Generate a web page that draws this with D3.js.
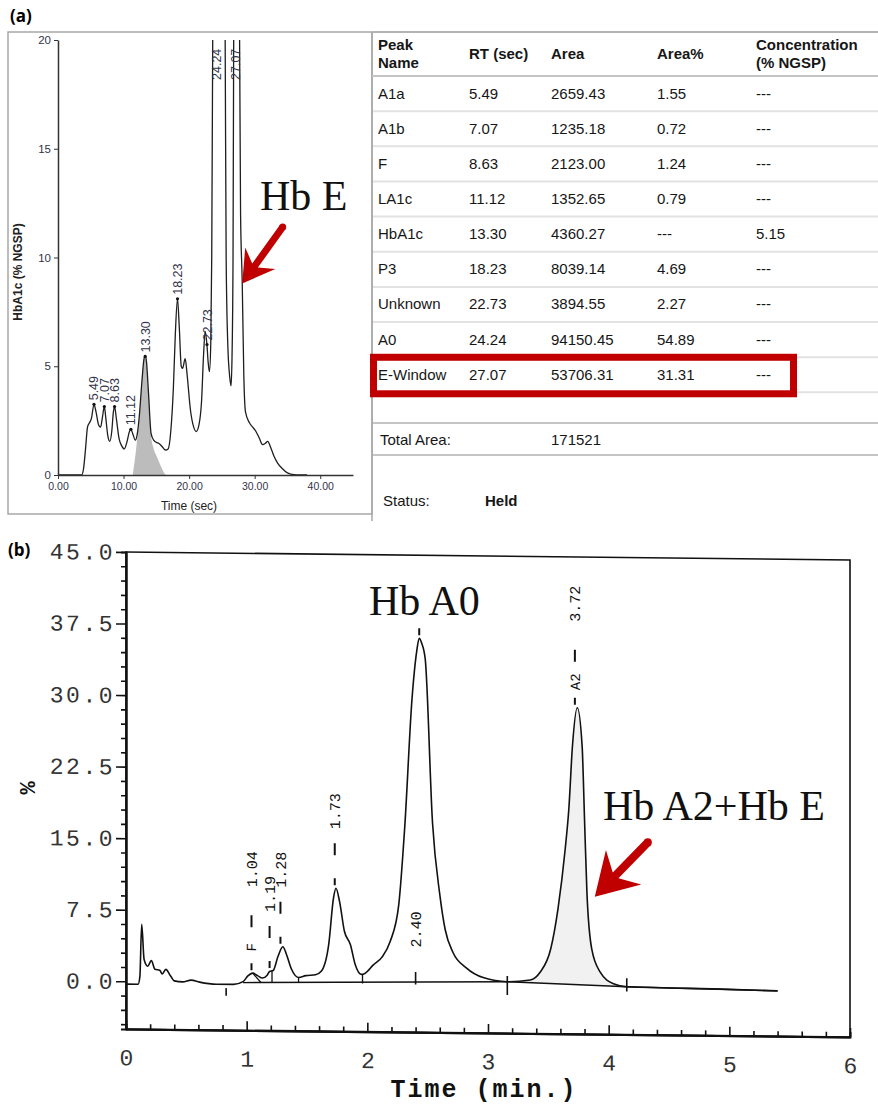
<!DOCTYPE html>
<html>
<head>
<meta charset="utf-8">
<script src="https://cdn.jsdelivr.net/npm/d3@7"></script>
<style>
  body { margin: 0; background: #fff; }
  svg { display: block; font-family: "Liberation Sans", Arial, sans-serif; }
</style>
</head>
<body>
<script>
// ---------- panel (a) data ----------
// chromatogram trace, [time (sec), HbA1c %]
var traceA = [[0,0],[3.6,0],[3.9,0.3],[4.2,1.2],[4.5,2.2],[4.8,2.4],[5.1,2.6],[5.49,3.25],[5.8,2.9],[6.2,2.3],
  [6.5,2.2],[6.8,2.7],[7.07,3.15],[7.3,2.6],[7.6,1.8],[7.9,1.55],[8.2,2.0],[8.45,2.9],[8.63,3.15],[8.9,2.6],
  [9.3,1.7],[9.7,1.35],[10.1,1.2],[10.5,1.5],[10.9,2.0],[11.12,2.1],[11.4,1.9],[11.8,1.6],[12.1,1.9],[12.4,2.7],
  [12.8,4.3],[13.1,5.3],[13.3,5.5],[13.5,5.2],[13.8,3.8],[14.2,1.9],[14.6,1.6],[15.0,1.5],[15.4,1.45],[15.9,1.3],
  [16.4,1.15],[16.8,1.2],[17.2,2.0],[17.6,4.0],[17.9,6.5],[18.23,8.1],[18.5,6.8],[18.8,5.0],[19.0,4.9],[19.4,5.35],
  [19.7,4.6],[20.2,3.0],[20.7,2.2],[21.1,2.0],[21.5,2.3],[21.9,3.4],[22.2,5.5],[22.45,6.6],[22.73,5.95],[22.9,5.2],
  [23.1,4.75],[23.3,6.0],[23.45,10],[23.6,20],[23.9,32],[24.24,38],[24.8,34],[25.2,27],[25.5,20],[25.65,10],
  [25.9,6],[26.2,4.5],[26.4,4.1],[26.55,5.5],[26.7,10],[26.8,20],[27.07,26],[27.4,24],[27.7,20],[27.85,12],
  [28.1,8.9],[28.35,4.5],[28.6,2.9],[29.2,2.4],[29.7,2.2],[30.2,2.0],[30.7,1.7],[31.2,1.4],[31.6,1.45],[32.0,1.55],
  [32.4,1.3],[32.9,0.9],[33.5,0.55],[34.2,0.3],[35.0,0.1],[36.0,0.02],[38.0,0]];
// shaded HbA1c component
var hba1cPeak = [[11.4,0],[11.9,1.15],[12.4,2.7],[12.8,4.3],[13.1,5.3],[13.3,5.5],[13.5,5.2],[13.8,3.8],
  [14.2,1.8],[14.6,1.2],[15.0,0.9],[15.7,0.4],[16.3,0.05],[16.5,0]];

// peak table
var peakNames = ["A1a","A1b","F","LA1c","HbA1c","P3","Unknown","A0","E-Window"];
var rtSec = ["5.49","7.07","8.63","11.12","13.30","18.23","22.73","24.24","27.07"];
var areas = ["2659.43","1235.18","2123.00","1352.65","4360.27","8039.14","3894.55","94150.45","53706.31"];
var areaPct = ["1.55","0.72","1.24","0.79","---","4.69","2.27","54.89","31.31"];
var concNGSP = ["---","---","---","---","5.15","---","---","---","---"];
var peakTopA = [3.25,3.15,3.15,2.1,5.45,8.1,6.0,38,26];
var totalArea = "171521";
var statusText = "Held";
var headTop = ["Peak","RT (sec)","Area","Area%","Concentration"];
var headBottom = ["Name","","","","(% NGSP)"];
var yTicksA = [0,5,10,15,20];
var xTicksA = [0,10,20,30,40];

// ---------- panel (b) data ----------
// [time (min), %]
var traceB = [[0,-0.3],[0.1,-0.3],[0.115,0.5],[0.13,6.0],[0.15,2.3],[0.18,1.6],[0.21,2.2],[0.24,1.3],[0.28,1.2],
  [0.30,0.8],[0.33,1.3],[0.37,0.6],[0.40,0.1],[0.47,0.0],[0.54,0.2],[0.61,0.0],[0.75,-0.2],[0.89,-0.2],[0.97,0.1],
  [1.01,0.7],[1.05,1.0],[1.09,0.75],[1.13,0.5],[1.17,0.8],[1.19,1.2],[1.22,1.3],[1.26,2.8],[1.30,3.8],[1.33,3.0],
  [1.37,1.5],[1.43,0.6],[1.49,0.8],[1.57,0.9],[1.62,1.3],[1.68,4.1],[1.72,9.0],[1.74,10.0],[1.77,8.6],[1.81,5.5],
  [1.86,4.1],[1.90,2.0],[1.95,1.0],[1.98,1.1],[2.05,2.0],[2.12,2.8],[2.19,4.5],[2.26,8.3],[2.31,16.5],[2.37,29.9],
  [2.41,35.0],[2.43,36.3],[2.45,35.8],[2.48,34.1],[2.54,17.0],[2.60,9.5],[2.645,5.8],[2.71,3.4],[2.82,1.8],
  [2.96,0.8],[3.16,0.4],[3.35,0.6],[3.43,1.4],[3.52,3.9],[3.58,8.1],[3.64,14.4],[3.67,18.6],[3.70,25.2],
  [3.74,29.2],[3.78,25.2],[3.80,17.5],[3.82,9.8],[3.86,3.9],[3.93,1.5],[4.04,0.3],[4.15,0.0],[5.0,-0.15],[5.4,-0.25]];
var baselineB = [[0.97,0.0],[3.16,0.4],[4.15,0.0],[5.4,-0.25]];
var dropsB = [[1.21,1.3],[1.43,0.6],[1.96,1.05]];
var skimB = [[1.05,1.0],[1.12,0.0]];
var marksB = [[0.83,-1.4,-0.6],[2.40,0,1.3],[3.16,-1.0,1.0],[4.15,-0.5,0.9]];
var rtB = [1.04,1.19,1.28,1.73,2.43,3.72];
var rtLabelB = ["1.04","1.19","1.28","1.73","","3.72"];
var nameB = ["F","","","","","A2"];
var peakTopB = [1.0,1.25,3.8,10.0,36.3,29.2];
var a0Label = "2.40";
var yTicksB = [0,7.5,15,22.5,30,37.5,45];
var xTicksB = [0,1,2,3,4,5,6];

var W = 878, H = 1111;
var svg = d3.select("body").append("svg").attr("width", W).attr("height", H);

function arrow(g, tail, tip, w, len, half, join, color) {
  var dx = tail[0] - tip[0], dy = tail[1] - tip[1];
  var L = Math.hypot(dx, dy), ux = dx / L, uy = dy / L, nx = -uy, ny = ux;
  function p(a, b) { return [tip[0] + ux * a + nx * b, tip[1] + uy * a + ny * b]; }
  var pts = [p(L, w / 2), p(join, w / 2), p(len, half), tip, p(len, -half), p(join, -w / 2), p(L, -w / 2)];
  g.append("path").attr("d", d3.line()(pts) + "Z").attr("fill", color);
  g.append("circle").attr("cx", tail[0]).attr("cy", tail[1]).attr("r", w / 2).attr("fill", color);
}

// ================= panel (a) =================
svg.append("text").attr("x", 10).attr("y", 22)
  .attr("font-family", "Open Sans").attr("font-weight", "bold").attr("font-size", 17).text("(a)");

var xA = d3.scaleLinear().domain([0, 45]).range([58, 353]);
var yA = d3.scaleLinear().domain([0, 20]).range([475, 40]);
var gA = svg.append("g");

gA.append("rect").attr("x", 8).attr("y", 32).attr("width", 364).attr("height", 482)
  .attr("fill", "none").attr("stroke", "#a8a8a8").attr("stroke-width", 1.5);

gA.append("clipPath").attr("id", "clipA").append("rect")
  .attr("x", 58).attr("y", yA(20)).attr("width", 300).attr("height", yA(0) - yA(20) + 1);

var plotA = gA.append("g").attr("clip-path", "url(#clipA)");
plotA.append("path").datum(hba1cPeak)
  .attr("d", d3.area().x(d => xA(d[0])).y0(yA(0)).y1(d => yA(d[1])).curve(d3.curveMonotoneX))
  .attr("fill", "#bcbcbc");
plotA.append("path").datum(traceA)
  .attr("d", d3.line().x(d => xA(d[0])).y(d => yA(d[1])).curve(d3.curveMonotoneX))
  .attr("fill", "none").attr("stroke", "#1e1e1e").attr("stroke-width", 1.3);

var tickCol = "#33334a";
var axA = gA.append("g").attr("transform", "translate(0," + yA(0) + ")")
  .call(d3.axisBottom(xA).tickValues(xTicksA).tickFormat(d3.format(".2f")).tickSize(4).tickSizeOuter(0).tickPadding(4));
var ayA = gA.append("g").attr("transform", "translate(" + xA(0) + ",0)")
  .call(d3.axisLeft(yA).tickValues(yTicksA).tickSize(4).tickSizeOuter(0).tickPadding(3));
[axA, ayA].forEach(function(a) {
  a.select(".domain").attr("stroke", "#333").attr("stroke-width", 1.5);
  a.selectAll(".tick line").attr("stroke", "#333");
  a.selectAll(".tick text").attr("font-size", 11.5).attr("fill", tickCol);
});
axA.selectAll(".tick text").attr("font-size", 10.5);

gA.append("text").attr("x", 189).attr("y", 510).attr("text-anchor", "middle")
  .attr("font-size", 12).attr("fill", "#222").text("Time (sec)");
gA.append("text").attr("transform", "translate(22,272)rotate(-90)").attr("text-anchor", "middle")
  .attr("font-weight", "bold").attr("font-size", 12).attr("fill", "#222").text("HbA1c (% NGSP)");

// peak dots and retention-time labels
rtSec.forEach(function(rt, i) {
  var t = +rt, v = peakTopA[i];
  var x = xA(t), y;
  if (v > 20) {
    y = yA(20) + 40;
  } else {
    y = yA(v) - 4;
    gA.append("circle").attr("cx", x).attr("cy", yA(v)).attr("r", 1.6).attr("fill", "#111");
  }
  gA.append("text").attr("transform", "translate(" + x + "," + y + ")rotate(-90)")
    .attr("dy", "0.36em").attr("font-size", 12.5).attr("fill", tickCol).text(rt);
});

gA.append("text").attr("x", 260).attr("y", 210).attr("font-family", "'Liberation Serif','Times New Roman',serif")
  .attr("font-size", 42).attr("fill", "#111").text("Hb E");
arrow(gA, [282.7, 227], [xA(28.1), yA(8.9) + 2], 7, 31, 18.5, 22, "#c00000");

// ----- table -----
var tb = svg.append("g").attr("font-size", 15).attr("fill", "#161616");
var colX = [378, 469, 551, 657, 756];
var rowH = 35.15, headLine = 76;

tb.append("line").attr("x1", 372).attr("x2", W).attr("y1", 32).attr("y2", 32)
  .attr("stroke", "#b4b4b4").attr("stroke-width", 2);
tb.append("line").attr("x1", 372).attr("x2", 372).attr("y1", 32).attr("y2", 521)
  .attr("stroke", "#a8a8a8").attr("stroke-width", 1.5);

headTop.forEach(function(h, j) {
  if (headBottom[j]) {
    tb.append("text").attr("x", colX[j]).attr("y", 50).attr("font-weight", "bold").text(h);
    tb.append("text").attr("x", colX[j]).attr("y", 68).attr("font-weight", "bold").text(headBottom[j]);
  } else {
    tb.append("text").attr("x", colX[j]).attr("y", 59).attr("font-weight", "bold").text(h);
  }
});
tb.append("line").attr("x1", 372).attr("x2", W).attr("y1", headLine).attr("y2", headLine)
  .attr("stroke", "#c4c4c4").attr("stroke-width", 2);

var rows = peakNames.map(function(n, i) { return [n, rtSec[i], areas[i], areaPct[i], concNGSP[i]]; });
rows.forEach(function(r, i) {
  var base = headLine + rowH * i + rowH / 2 + 5;
  r.forEach(function(c, j) {
    tb.append("text").attr("x", colX[j]).attr("y", base).text(c);
  });
});
d3.range(1, rows.length + 1).forEach(function(k) {
  var y = headLine + rowH * k;
  tb.append("line").attr("x1", 373).attr("x2", W).attr("y1", y).attr("y2", y)
    .attr("stroke", "#e2e2e2").attr("stroke-width", 2);
});
[423, 455].forEach(function(y) {
  tb.append("line").attr("x1", 373).attr("x2", W).attr("y1", y).attr("y2", y)
    .attr("stroke", "#c4c4c4").attr("stroke-width", 2);
});
tb.append("text").attr("x", 380).attr("y", 445).text("Total Area:");
tb.append("text").attr("x", colX[2]).attr("y", 445).text(totalArea);
tb.append("text").attr("x", 383).attr("y", 506).text("Status:");
tb.append("text").attr("x", 485).attr("y", 506).attr("font-weight", "bold").text(statusText);

// highlight box round the E-Window row
var eRow = peakNames.indexOf("E-Window");
tb.append("rect").attr("x", 373.5).attr("y", headLine + rowH * eRow + rowH / 2 - 17.5)
  .attr("width", 420).attr("height", 36.5)
  .attr("fill", "none").attr("stroke", "#c00000").attr("stroke-width", 7);

// ================= panel (b) =================
svg.append("text").attr("x", 8).attr("y", 556)
  .attr("font-family", "Open Sans").attr("font-weight", "bold").attr("font-size", 17).text("(b)");

var xB = d3.scaleLinear().domain([0, 6]).range([126, 850]);
var yB = d3.scaleLinear().domain([-5, 45]).range([1029, 552]);
var mono = "'Liberation Mono','DejaVu Sans Mono',monospace";
// scanned print is slightly tilted
var gB = svg.append("g").attr("transform", "matrix(1,0.011,0,1,0," + (-0.011 * 126) + ")");

gB.append("rect").attr("x", xB(0)).attr("y", yB(45)).attr("width", xB(6) - xB(0)).attr("height", yB(-5) - yB(45))
  .attr("fill", "none").attr("stroke", "#111").attr("stroke-width", 1.6);

// shaded Hb A2 / Hb E area
var a2 = traceB.filter(d => d[0] >= 3.16 && d[0] <= 4.15);
gB.append("path").datum(a2)
  .attr("d", d3.area().x(d => xB(d[0])).y0(d => yB(0.4 - 0.4 * (d[0] - 3.16) / 0.99)).y1(d => yB(d[1])).curve(d3.curveMonotoneX))
  .attr("fill", "#f1f1f1");

gB.append("path").datum(baselineB)
  .attr("d", d3.line().x(d => xB(d[0])).y(d => yB(d[1])))
  .attr("fill", "none").attr("stroke", "#111").attr("stroke-width", 1.4);
gB.append("path").datum(traceB)
  .attr("d", d3.line().x(d => xB(d[0])).y(d => yB(d[1])).curve(d3.curveMonotoneX))
  .attr("fill", "none").attr("stroke", "#111").attr("stroke-width", 1.6);

dropsB.forEach(function(d) {
  gB.append("line").attr("x1", xB(d[0])).attr("x2", xB(d[0])).attr("y1", yB(d[1])).attr("y2", yB(0.05))
    .attr("stroke", "#111").attr("stroke-width", 1.3);
});
gB.append("path").datum(skimB).attr("d", d3.line().x(d => xB(d[0])).y(d => yB(d[1])))
  .attr("stroke", "#111").attr("stroke-width", 1.3);
marksB.forEach(function(m) {
  gB.append("line").attr("x1", xB(m[0])).attr("x2", xB(m[0])).attr("y1", yB(m[1])).attr("y2", yB(m[2]))
    .attr("stroke", "#111").attr("stroke-width", 1.6);
});

// peak marks: dash, name, dash, retention time
rtB.forEach(function(t, i) {
  var x = xB(t), yp = yB(peakTopB[i]);
  var hasName = nameB[i] !== "";
  gB.append("line").attr("x1", x).attr("x2", x).attr("y1", yp - 3).attr("y2", yp - 10)
    .attr("stroke", "#111").attr("stroke-width", 2);
  if (!rtLabelB[i]) return;
  if (hasName) {
    gB.append("text").attr("transform", "translate(" + x + "," + (yp - 26) + ")rotate(-90)")
      .attr("text-anchor", "middle").attr("dy", "0.35em").attr("font-family", mono).attr("font-size", 14)
      .attr("fill", "#111").text(nameB[i]);
  }
  var d0 = hasName ? 46 : 33;
  gB.append("line").attr("x1", x).attr("x2", x).attr("y1", yp - d0).attr("y2", yp - d0 - 12)
    .attr("stroke", "#111").attr("stroke-width", 2);
  gB.append("text").attr("transform", "translate(" + x + "," + (yp - d0 - 26 - (hasName ? 14 : 0)) + ")rotate(-90)")
    .attr("dy", "0.35em").attr("font-family", mono).attr("font-size", 15).attr("fill", "#111").text(rtLabelB[i]);
});
gB.append("text").attr("transform", "translate(" + xB(2.40) + "," + (yB(0) - 37) + ")rotate(-90)")
  .attr("dy", "0.35em").attr("font-family", mono).attr("font-size", 15).attr("fill", "#111").text(a0Label);

// axes
var minorY = d3.range(-3, 31).map(i => i * 1.5).filter(v => v % 7.5 !== 0);
var minorX = d3.range(1, 30).filter(i => i % 5 !== 0).map(i => i / 5);
gB.append("g").attr("transform", "translate(" + xB(0) + ",0)")
  .call(d3.axisLeft(yB).tickValues(minorY).tickSize(5).tickFormat(""));
var ayB = gB.append("g").attr("transform", "translate(" + xB(0) + ",0)")
  .call(d3.axisLeft(yB).tickValues(yTicksB).tickSize(10).tickSizeOuter(0).tickPadding(1).tickFormat(d3.format(".1f")));
gB.append("g").attr("transform", "translate(0," + yB(-5) + ")")
  .call(d3.axisBottom(xB).tickValues(minorX).tickSize(-5).tickFormat(""));
var axB = gB.append("g").attr("transform", "translate(0," + yB(-5) + ")")
  .call(d3.axisBottom(xB).tickValues(xTicksB).tickSize(-9).tickSizeOuter(0).tickPadding(20).tickFormat(d3.format("d")));
gB.selectAll(".domain").attr("stroke", "#111").attr("stroke-width", 2);
gB.selectAll(".tick line").attr("stroke", "#111").attr("stroke-width", 1.6);
ayB.selectAll(".tick text").attr("font-family", mono).attr("font-size", 23).attr("letter-spacing", 2.5).attr("fill", "#333");
axB.selectAll(".tick text").attr("font-family", mono).attr("font-size", 23).attr("fill", "#333");

svg.append("text").attr("x", 484).attr("y", 1097).attr("text-anchor", "middle")
  .attr("font-family", mono).attr("font-weight", "bold").attr("font-size", 25).attr("letter-spacing", 2)
  .attr("fill", "#111").text("Time (min.)");
svg.append("text").attr("transform", "translate(35,788)rotate(-90)").attr("text-anchor", "middle")
  .attr("font-family", mono).attr("font-weight", "bold").attr("font-size", 22).attr("fill", "#111").text("%");

// annotations
var serif = "'Liberation Serif','Times New Roman',serif";
svg.append("text").attr("x", 369).attr("y", 615).attr("font-family", serif).attr("font-size", 42)
  .attr("fill", "#111").text("Hb A0");
svg.append("text").attr("x", 603).attr("y", 820).attr("font-family", serif).attr("font-size", 42)
  .attr("fill", "#111").text("Hb A2+Hb E");
arrow(gB, [xB(3.885) + 53, yB(9.4) - 55], [xB(3.885), yB(9.4)], 8, 41.5, 24.5, 30, "#c00000");
</script>
</body>
</html>
